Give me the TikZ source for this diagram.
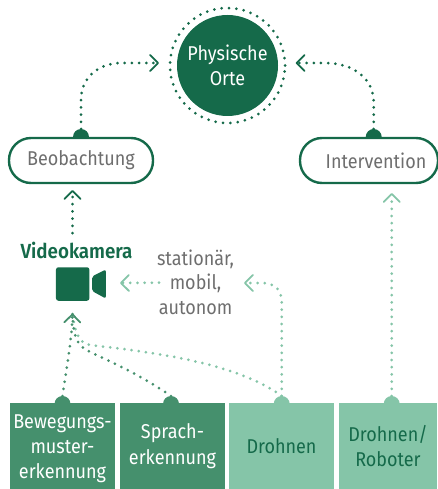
\documentclass[tikz,border=0pt]{standalone}
\usepackage{fontspec}
\setmainfont{Fira Sans}[FakeStretch=0.9,BoldFont={Fira Sans SemiBold},BoldFeatures={FakeStretch=0.92}]
\usetikzlibrary{arrows.meta}
\definecolor{gdark}{HTML}{156A4A}
\definecolor{gmid}{HTML}{45906D}
\definecolor{glight}{HTML}{85C5A8}
\definecolor{tgray}{HTML}{6E6E6E}
\tikzset{
  dotbase/.style={line width=3pt,line cap=round,dash pattern=on 0pt off 7.2pt},
  dotline/.style={dotbase,-{Straight Barb[length=8pt,width=16pt,line width=1.8pt,round]}},
  bump/.style={circle,fill=#1,minimum size=16pt,inner sep=0pt,outer sep=0pt},
  pill/.style={draw=gdark,line width=2.4pt,fill=white,rounded corners=22pt,minimum height=45pt,
    inner sep=0pt,outer sep=0pt,text=tgray,font=\fontsize{20}{24}\selectfont},
  srcbox/.style={fill=#1,minimum width=105pt,minimum height=86pt,inner sep=0pt,outer sep=0pt,
    align=center,font=\fontsize{20}{25.5}\selectfont},
  txt/.style={inner sep=0pt,outer sep=0pt,align=center,font=\fontsize{20}{24.6}\selectfont},
}
\begin{document}
\begin{tikzpicture}[x=1pt,y=-1pt]
\useasboundingbox (0,0) rectangle (437,489);
% bumps
\node[bump=gdark] (bb) at (81,137) {};
\node[bump=gdark] (bi) at (373.7,137) {};
\node[bump=gmid] (b1) at (62.5,404) {};
\node[bump=gmid] (b2) at (171,404) {};
\node[bump=glight] (b3) at (281.7,404) {};
\node[bump=glight] (b4) at (391.7,404) {};
% main circle
\node[circle,fill=gdark,minimum size=101pt,inner sep=0pt,text=white,align=center,
  font=\fontsize{20}{25.5}\selectfont] (ort) at (227.5,65.5) {Physische\\Orte};
\draw[gdark,dotbase,dash pattern=on 0pt off 7.4pt] (ort.center) ++(57.5,0) arc[start angle=0,end angle=-360,radius=57.5];
% pills
\node[pill,minimum width=144pt] (beo) at (81,160.5) {Beobachtung};
\node[pill,minimum width=138pt] (int) at (369,160.5) {\hspace*{14pt}Intervention};
% source boxes
\node[srcbox=gmid,text=white,font=\fontsize{20}{25}\selectfont] (bew) at (62.5,446) {\rule{0pt}{20pt}Bewegungs-\\muster-\\erkennung};
\node[srcbox=gmid,text=white] (spr) at (172.5,446) {Sprach-\\erkennung};
\node[srcbox=glight,text=gdark] (dro) at (281.5,446) {Drohnen};
\node[srcbox=glight,text=gdark,minimum width=98pt] (rob) at (388,446) {Drohnen/\\Roboter};
% labels
\node[txt,text=gdark,font=\fontsize{20.4}{22}\selectfont\bfseries] (vk) at (76.5,250) {Videokamera};
\node[txt,text=tgray] (st) at (195.5,282) {stationär,\\mobil,\\autonom};
% camera
\node[fill=gdark,rounded corners=2.5pt,minimum width=33.5pt,minimum height=33.5pt,inner sep=0pt] (cam) at (72.7,284) {};
\fill[gdark,rounded corners=2pt] (92,276.5) -- (105.8,269.5) -- (105.8,298.5) -- (92,291) -- cycle;
% connector ends
\coordinate (tipo1) at (159,63);
\coordinate (tipo2) at (295.7,63);
\coordinate (tipb) at (72.5,190);
\coordinate (tipi) at (391.7,193);
\coordinate (tipc) at (72.5,313.5);
\coordinate (tipc2) at (120,283);
\coordinate (tips) at (244,283);
\coordinate (vkt) at (72.5,233);
% connectors
\draw[dotline,gdark] (bb.north) -- (81,100) .. controls (81,78) and (98,63) .. (122,63) -- (tipo1);
\draw[dotline,gdark] (bi.north) -- (373.7,102) .. controls (373.7,80) and (355,63) .. (325,63) -- (tipo2);
\draw[dotline,gdark] (vkt) -- (tipb);
\draw[dotline,glight] (b4.north) -- (tipi);
\draw[dotline,glight] (159,282.7) -- (tipc2);
\draw[dotline,glight] (b3.north) -- (281.7,302) .. controls (281.7,290) and (275,283) .. (262,283) -- (tips);
\draw[dotbase,glight] (b3.north) .. controls (235,362) and (150,352) .. (90,345) .. controls (82,343) and (76,340) .. (tipc);
\draw[dotbase,gmid] (b2.north) .. controls (130,368) and (100,358) .. (85,349) .. controls (77,344) and (73,335) .. (tipc);
\draw[dotline,gmid] (b1.north) .. controls (66,370) and (72,340) .. (tipc);
\end{tikzpicture}
\end{document}
